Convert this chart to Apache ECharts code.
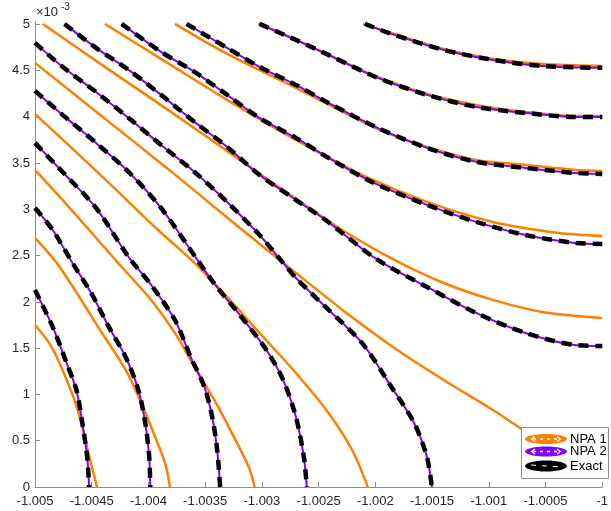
<!DOCTYPE html>
<html><head><meta charset="utf-8">
<script src="https://cdn.jsdelivr.net/npm/echarts/dist/echarts.min.js"></script>
<style>html,body{margin:0;padding:0;background:#fff}#c{width:611px;height:511px}</style>
</head><body><div id="c"></div>
<script>
// x values, y values in units of 10^-3
const xTicks = [-1.005, -1.0045, -1.004, -1.0035, -1.003, -1.0025, -1.002, -1.0015, -1.001, -1.0005, -1];
const yTicks = [0, 0.5, 1, 1.5, 2, 2.5, 3, 3.5, 4, 4.5, 5];
const seriesNames = ['NPA 1', 'NPA 2', 'Exact'];

// Exact solution level curves (NPA 2 coincides with them)
const exact1 = [[-1.005,2.130],[-1.004844,1.730],[-1.004722,1.341],[-1.004635,1.049],[-1.004583,0.692],[-1.004540,0.324],[-1.004523,0]];
const exact2 = [[-1.005,3.016],[-1.004844,2.778],[-1.004670,2.422],[-1.004505,2.097],[-1.004349,1.730],[-1.004201,1.405],[-1.004089,1.049],[-1.004028,0.692],[-1.003993,0.324],[-1.003984,0]];
const exact3 = [[-1.005,3.719],[-1.004757,3.405],[-1.004462,3.016],[-1.004175,2.486],[-1.003976,2.184],[-1.003767,1.805],[-1.003628,1.405],[-1.003507,1.081],[-1.003438,0.757],[-1.003394,0.400],[-1.003368,0]];
const exact4 = [[-1.005,4.281],[-1.004757,4.022],[-1.004462,3.719],[-1.004175,3.405],[-1.003889,3.016],[-1.003568,2.454],[-1.003411,2.184],[-1.003194,1.859],[-1.002960,1.481],[-1.002813,1.157],[-1.002700,0.757],[-1.002630,0.324],[-1.002604,0]];
const exact5 = [[-1.005,4.800],[-1.004757,4.541],[-1.004462,4.270],[-1.004175,3.989],[-1.003889,3.697],[-1.003594,3.405],[-1.003307,3.081],[-1.003021,2.724],[-1.002813,2.422],[-1.002700,2.259],[-1.002439,1.946],[-1.002118,1.557],[-1.001858,1.081],[-1.001658,0.692],[-1.001545,0.324],[-1.001502,0]];
const exact6 = [[-1.004740,5.005],[-1.004462,4.746],[-1.004175,4.508],[-1.003889,4.238],[-1.003594,3.946],[-1.003307,3.676],[-1.003021,3.373],[-1.002726,3.124],[-1.002439,2.886],[-1.002326,2.778],[-1.001979,2.454],[-1.001545,2.162],[-1.001111,1.881],[-1.000677,1.665],[-1.000243,1.535],[-1.0,1.524]];
const exact7 = [[-1.004236,5.005],[-1.003889,4.703],[-1.003594,4.486],[-1.003307,4.238],[-1.003021,3.989],[-1.002700,3.773],[-1.002413,3.557],[-1.002031,3.297],[-1.001545,3.049],[-1.001111,2.865],[-1.000677,2.724],[-1.000243,2.638],[-1.0,2.627]];
const exact8 = [[-1.003663,5.005],[-1.003307,4.746],[-1.003021,4.541],[-1.002700,4.346],[-1.002413,4.151],[-1.001979,3.881],[-1.001545,3.665],[-1.001111,3.514],[-1.000677,3.449],[-1.000243,3.395],[-1.0,3.384]];
const exact9 = [[-1.003021,5.005],[-1.002700,4.832],[-1.002413,4.670],[-1.001979,4.422],[-1.001545,4.238],[-1.001111,4.108],[-1.000677,4.043],[-1.000243,4.000],[-1.0,4.000]];
const exact10 = [[-1.002092,5.005],[-1.001832,4.886],[-1.001398,4.724],[-1.000963,4.616],[-1.000530,4.551],[-1.0,4.530]];

// NPA 1 level curves
const npa1c1 = [[-1.005,1.751],[-1.004870,1.546],[-1.004757,1.265],[-1.004653,0.941],[-1.004583,0.649],[-1.004514,0.292],[-1.004453,0]];
const npa1c2 = [[-1.005,2.692],[-1.004809,2.422],[-1.004609,2.054],[-1.004410,1.665],[-1.004201,1.265],[-1.004063,0.908],[-1.003941,0.541],[-1.003854,0.259],[-1.003811,0]];
const npa1c3 = [[-1.005,3.427],[-1.004766,3.114],[-1.004523,2.778],[-1.004236,2.378],[-1.003976,2.022],[-1.003767,1.665],[-1.003594,1.297],[-1.003420,0.941],[-1.003247,0.541],[-1.003116,0.216],[-1.003064,0]];
const npa1c4 = [[-1.005,4.032],[-1.004696,3.686],[-1.004349,3.286],[-1.003915,2.778],[-1.003594,2.422],[-1.003307,2.054],[-1.003021,1.665],[-1.002700,1.232],[-1.002413,0.800],[-1.002205,0.400],[-1.002066,0]];
const npa1c5 = [[-1.005,4.584],[-1.004436,4.032],[-1.003828,3.438],[-1.003194,2.800],[-1.002700,2.314],[-1.002266,1.892],[-1.001832,1.503],[-1.001398,1.157],[-1.000963,0.832],[-1.000790,0.692],[-1.000399,0.378],[-1.0,0.184]];
const npa1c6 = [[-1.004931,5.005],[-1.004436,4.584],[-1.003828,4.076],[-1.003220,3.557],[-1.002700,3.114],[-1.002292,2.778],[-1.001832,2.454],[-1.001398,2.205],[-1.000963,2.022],[-1.000530,1.892],[-1.0,1.827]];
const npa1c7 = [[-1.004384,5.005],[-1.003889,4.627],[-1.003307,4.184],[-1.002700,3.751],[-1.002118,3.373],[-1.001545,3.081],[-1.000963,2.865],[-1.000382,2.746],[-1.0,2.714]];
const npa1c8 = [[-1.003767,5.005],[-1.003307,4.681],[-1.002700,4.314],[-1.001979,3.870],[-1.001545,3.676],[-1.001111,3.535],[-1.000677,3.481],[-1.000243,3.427],[-1.0,3.416]];
const npa1c9 = [[-1.003030,5.005],[-1.002700,4.832],[-1.002413,4.670],[-1.001979,4.432],[-1.001545,4.249],[-1.001111,4.130],[-1.000677,4.054],[-1.000243,4.011],[-1.0,4.011]];
const npa1c10 = [[-1.002109,5.005],[-1.001832,4.897],[-1.001398,4.735],[-1.000963,4.627],[-1.000530,4.573],[-1.0,4.551]];

const npa1Curves = [npa1c1,npa1c2,npa1c3,npa1c4,npa1c5,npa1c6,npa1c7,npa1c8,npa1c9,npa1c10];
const exactCurves = [exact1,exact2,exact3,exact4,exact5,exact6,exact7,exact8,exact9,exact10];
const npa2Curves = exactCurves;

const ORANGE = '#FF8000', PURPLE = '#8000FF', BLACK = '#000000';
const FONT = 'Liberation Sans, Arial, Helvetica, sans-serif';
const series = [];
npa1Curves.forEach(d => series.push({name: seriesNames[0], type:'line', data:d, smooth:0.3, showSymbol:false, symbol:'none',
  lineStyle:{color:ORANGE, width:2.5}, itemStyle:{color:ORANGE}, z:2}));
npa2Curves.forEach(d => series.push({name: seriesNames[1], type:'line', data:d, smooth:0.3, showSymbol:false, symbol:'none',
  lineStyle:{color:PURPLE, width:2}, itemStyle:{color:PURPLE}, z:3}));
exactCurves.forEach(d => series.push({name: seriesNames[2], type:'line', data:d, smooth:0.3, showSymbol:false, symbol:'none',
  lineStyle:{color:BLACK, width:4.5, type:[10,7], cap:'butt'}, itemStyle:{color:BLACK}, z:4}));

// Legend box drawn as graphic (MATLAB-style ellipse icons)
const legendColors = [ORANGE, PURPLE, BLACK];
const legendRows = [439, 451.5, 466];
const legendGraphic = [{type:'rect', shape:{x:521.5, y:427.5, width:87, height:51}, style:{fill:'#fff', stroke:'#8c8c8c', lineWidth:1}, z:100}];
seriesNames.forEach((nm, i) => {
  const cy = legendRows[i];
  legendGraphic.push({type:'ellipse', shape:{cx:546, cy:cy, rx:21, ry:(i===2?5.5:5)}, style:{fill:legendColors[i]}, z:101});
  if (i < 2) {
    legendGraphic.push({type:'line', shape:{x1:533, y1:cy, x2:559, y2:cy}, style:{stroke:'#fff', lineWidth:1.3, lineDash:[3,4]}, z:102});
    legendGraphic.push({type:'polyline', shape:{points:[[535,cy-2.5],[531.5,cy],[535,cy+2.5]]}, style:{stroke:'#fff', lineWidth:1.2, fill:null}, z:102});
    legendGraphic.push({type:'polyline', shape:{points:[[557,cy-2.5],[560.5,cy],[557,cy+2.5]]}, style:{stroke:'#fff', lineWidth:1.2, fill:null}, z:102});
  } else {
    legendGraphic.push({type:'line', shape:{x1:531, y1:cy-1, x2:561, y2:cy+1}, style:{stroke:'#fff', lineWidth:1, lineDash:[5,6]}, z:102});
  }
  legendGraphic.push({type:'text', x:570, y:cy, style:{text:nm, fontSize:13, fontFamily:FONT, fill:'#000',
    textAlign:'left', align:'left', textVerticalAlign:'middle', verticalAlign:'middle'}, z:103});
});

const fmtX = v => String(+(+v).toFixed(4));
const chart = echarts.init(document.getElementById('c'), null, {renderer:'canvas'});
chart.setOption({
  animation:false,
  backgroundColor:'#fff',
  grid:{left:35, right:0, top:21.6, bottom:24, containLabel:false},
  xAxis:{type:'value', min:xTicks[0], max:xTicks[xTicks.length-1], interval:0.0005,
    axisLine:{lineStyle:{color:'#8c8c8c', width:1}},
    axisTick:{inside:true, length:5, lineStyle:{color:'#8c8c8c'}},
    axisLabel:{formatter:fmtX, color:'#262626', fontSize:13, fontFamily:FONT, margin:8, showMinLabel:true, showMaxLabel:true},
    splitLine:{show:false}},
  yAxis:{type:'value', min:yTicks[0], max:5.03, interval:0.5,
    axisLine:{show:true, lineStyle:{color:'#8c8c8c', width:1}},
    axisTick:{inside:true, length:5, lineStyle:{color:'#8c8c8c'}},
    axisLabel:{color:'#262626', fontSize:13, fontFamily:FONT, margin:5, showMaxLabel:false,
      formatter: v => (Math.abs(v*2 - Math.round(v*2)) < 1e-6) ? String(+(+v).toFixed(2)) : ''},
    splitLine:{show:false}},
  legend:{show:false, data:seriesNames},
  graphic:[
    {type:'text', left:36, top:6, style:{text:'×10', fontSize:13, fontFamily:FONT, fill:'#262626'}},
    {type:'text', left:61, top:2, style:{text:'-3', fontSize:10, fontFamily:FONT, fill:'#262626'}}
  ].concat(legendGraphic),
  series: series
});
</script></body></html>
